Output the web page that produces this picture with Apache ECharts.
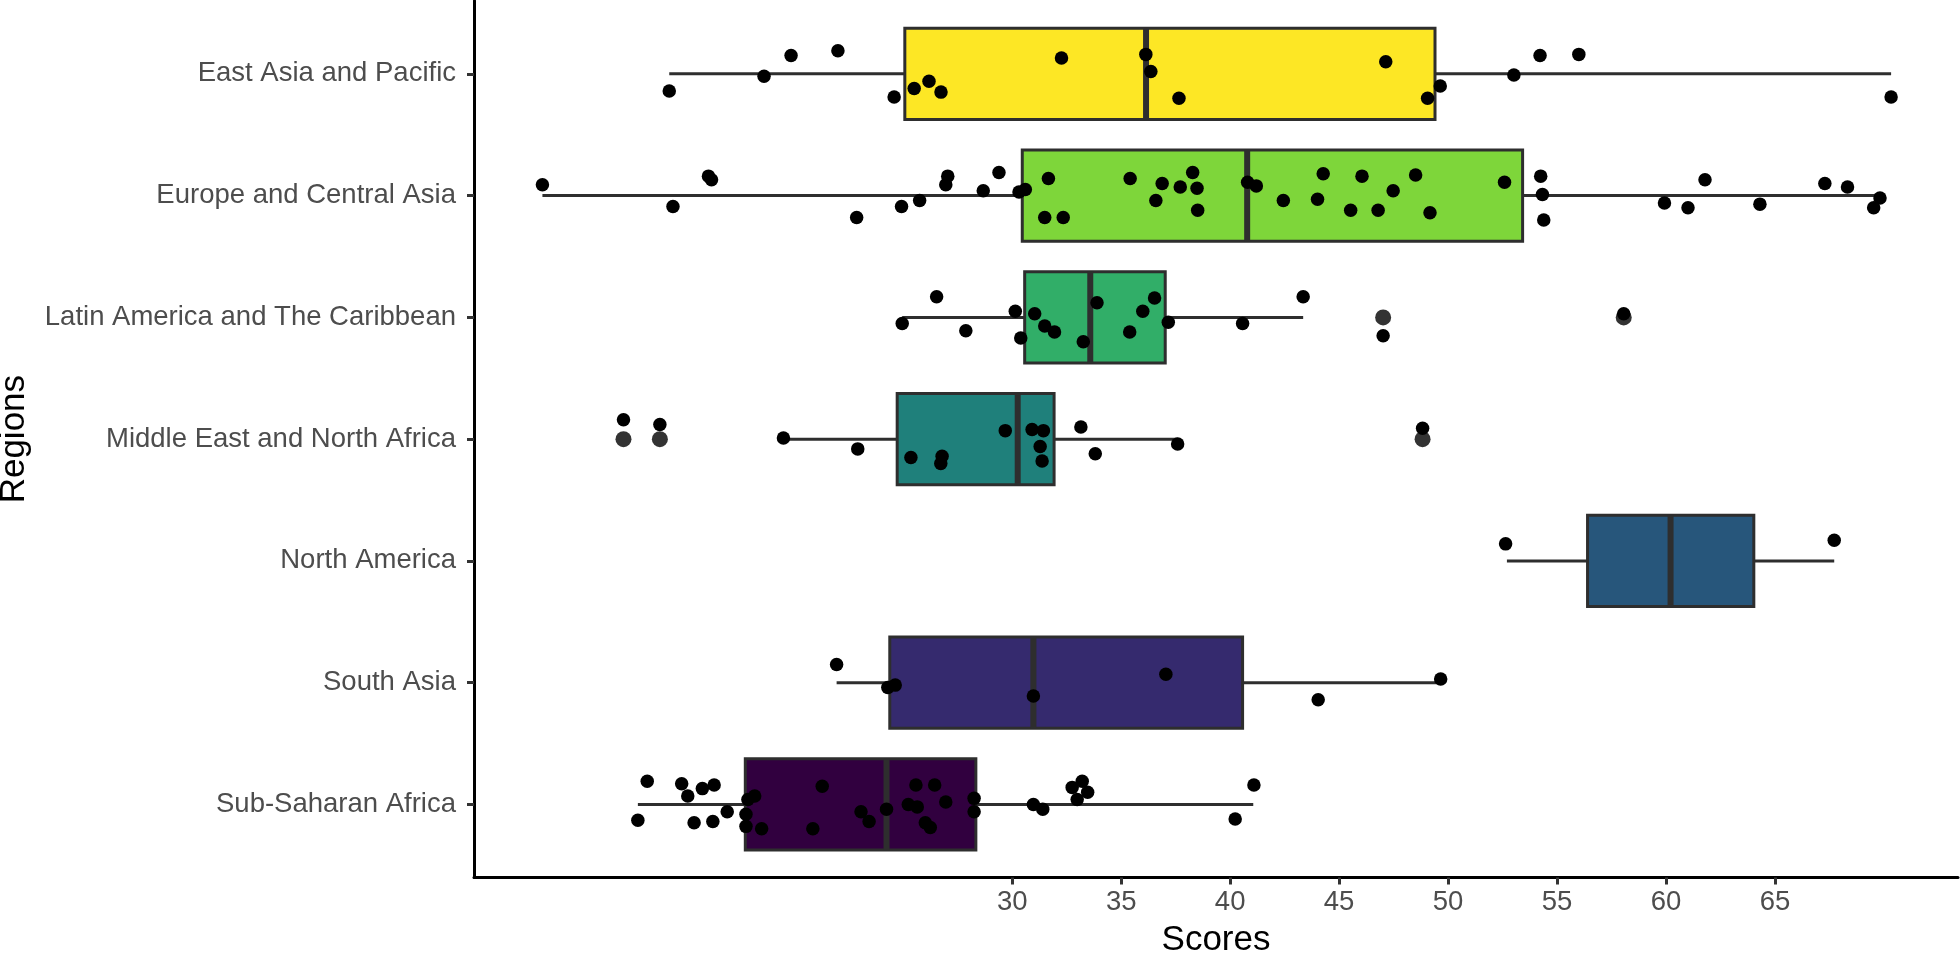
<!DOCTYPE html>
<html>
<head>
<meta charset="utf-8">
<script src="https://cdn.jsdelivr.net/npm/echarts@6/dist/echarts.min.js"></script>
<style>
html,body{margin:0;padding:0;background:#fff;}
#chart{width:1960px;height:956px;}
</style>
</head>
<body>
<div id="chart"></div>
<script>
// ---- data ----
const regions = ['East Asia and Pacific','Europe and Central Asia','Latin America and The Caribbean','Middle East and North Africa','North America','South Asia','Sub-Saharan Africa'];
const whiskerLow  = [14.26, 8.44, 24.95, 19.50, 52.70, 21.94, 12.82];
const q1          = [25.07, 30.46, 30.57, 24.72, 56.40, 24.38, 17.75];
const median      = [36.14, 40.78, 33.58, 30.25, 60.21, 30.97, 24.23];
const q3          = [49.40, 53.42, 37.02, 31.92, 64.03, 40.57, 28.33];
const whiskerHigh = [70.33, 69.82, 43.35, 37.59, 67.72, 49.66, 41.06];

const xTicks = [30, 35, 40, 45, 50, 55, 60, 65];

const eapScores = [14.26, 18.61, 19.85, 22.00, 24.58, 25.50, 26.18, 26.73, 32.26, 36.13, 36.36, 37.65, 47.14, 49.06, 49.64, 53.02, 54.22, 56.00, 70.33];
const eapJitter = [0.14, 0.02, -0.15, -0.19, 0.19, 0.12, 0.06, 0.15, -0.13, -0.16, -0.02, 0.20, -0.10, 0.20, 0.10, 0.01, -0.15, -0.16, 0.19];

const ecaScores = [8.44, 16.06, 16.20, 14.43, 22.86, 24.92, 25.75, 26.95, 27.04, 28.67, 29.39, 30.31, 30.60, 31.66, 31.49, 32.34, 35.41, 36.88, 36.59, 37.71, 38.28, 38.48, 38.51, 40.80, 41.20, 42.44, 44.27, 44.01, 45.53, 46.05, 46.79, 47.48, 48.51, 49.17, 52.59, 54.25, 54.33, 54.39, 59.93, 61.01, 61.79, 64.31, 67.29, 68.33, 69.82, 69.53];
const ecaJitter = [-0.09, -0.16, -0.13, 0.09, 0.18, 0.09, 0.04, -0.09, -0.16, -0.04, -0.19, -0.03, -0.05, -0.14, 0.18, 0.18, -0.14, -0.10, 0.04, -0.07, -0.19, -0.06, 0.12, -0.11, -0.08, 0.04, -0.18, 0.03, 0.12, -0.16, 0.12, -0.04, -0.17, 0.14, -0.11, -0.16, -0.01, 0.20, 0.06, 0.10, -0.13, 0.07, -0.10, -0.07, 0.02, 0.10];

const lacScores = [24.95, 26.53, 27.87, 30.14, 31.03, 31.49, 30.39, 31.94, 33.26, 33.89, 35.39, 35.99, 36.53, 37.16, 40.57, 43.35, 47.02, 58.06];
const lacJitter = [0.05, -0.17, 0.11, -0.05, -0.03, 0.07, 0.17, 0.12, 0.20, -0.12, 0.12, -0.05, -0.16, 0.04, 0.05, -0.17, 0.15, -0.03];

const menaScores = [12.16, 13.83, 19.50, 22.91, 25.35, 26.78, 26.72, 29.68, 30.91, 31.43, 31.28, 31.37, 33.15, 33.81, 37.59, 48.83];
const menaJitter = [-0.16, -0.12, -0.01, 0.08, 0.15, 0.14, 0.20, -0.07, -0.08, -0.07, 0.06, 0.18, -0.10, 0.12, 0.04, -0.09];

const naScores = [52.64, 67.72];
const naJitter = [-0.14, -0.17];

const saScores = [21.94, 24.29, 24.63, 30.97, 37.05, 49.66, 44.04];
const saJitter = [-0.15, 0.04, 0.02, 0.11, -0.07, -0.03, 0.14];

const ssaScores = [13.25, 14.83, 15.11, 15.78, 16.32, 12.82, 15.40, 16.26, 16.92, 17.78, 18.18, 17.87, 17.78, 18.50, 20.85, 21.28, 23.06, 23.43, 24.23, 25.23, 25.58, 25.64, 26.44, 26.01, 26.24, 26.95, 28.25, 28.25, 30.97, 31.40, 32.75, 33.21, 33.46, 32.98, 41.09, 40.23];
const ssaJitter = [-0.19, -0.17, -0.07, -0.13, -0.16, 0.13, 0.15, 0.14, 0.06, 0.08, -0.07, -0.04, 0.18, 0.20, 0.20, -0.15, 0.06, 0.14, 0.04, 0.00, -0.16, 0.02, -0.16, 0.15, 0.19, -0.02, -0.05, 0.06, 0.00, 0.04, -0.14, -0.19, -0.10, -0.04, -0.16, 0.12];

const outlierRegion = [2, 2, 3, 3, 3];
const outlierScore  = [47.02, 58.06, 12.16, 13.83, 48.83];

// ---- styling ----
const boxColors = ['#FDE725', '#7ED63A', '#31AE68', '#1F807B', '#27567B', '#352A6E', '#31003F'];
const FONT = '"Liberation Sans", Arial, Helvetica, sans-serif';

const pointSets = [
  [eapScores, eapJitter], [ecaScores, ecaJitter], [lacScores, lacJitter],
  [menaScores, menaJitter], [naScores, naJitter], [saScores, saJitter], [ssaScores, ssaJitter]
];
const pointData = [];
pointSets.forEach(([s, j], i) => {
  s.forEach((v, k) => pointData.push([v, i + 1 + j[k]]));
});
const boxData = regions.map((r, i) => [i + 1, whiskerLow[i], q1[i], median[i], q3[i], whiskerHigh[i]]);
const outlierData = outlierScore.map((v, i) => [v, outlierRegion[i] + 1]);

const chart = echarts.init(document.getElementById('chart'), null, {renderer: 'canvas'});
chart.setOption({
  animation: false,
  backgroundColor: '#ffffff',
  grid: {left: 474, right: 2, top: 0.8, bottom: 78.5, containLabel: false, outerBoundsMode: 'none'},
  xAxis: {
    type: 'value', min: 5.3, max: 73.4,
    splitLine: {show: false},
    axisLine: {show: true, lineStyle: {color: '#000', width: 3}},
    axisTick: {show: true, customValues: xTicks, length: 7, lineStyle: {color: '#333', width: 3}},
    axisLabel: {customValues: xTicks, fontSize: 27.5, color: '#4D4D4D', margin: 11, fontFamily: FONT},
    name: 'Scores', nameLocation: 'middle', nameGap: 45,
    nameTextStyle: {fontSize: 35, color: '#000', fontFamily: FONT}
  },
  yAxis: {
    type: 'value', min: 0.4, max: 7.6, inverse: true,
    splitLine: {show: false},
    axisLine: {show: true, lineStyle: {color: '#000', width: 3}},
    axisTick: {show: true, customValues: [1,2,3,4,5,6,7], length: 7, lineStyle: {color: '#333', width: 3}},
    axisLabel: {customValues: [1,2,3,4,5,6,7], fontSize: 27.5, color: '#4D4D4D', margin: 18, fontFamily: FONT,
      formatter: v => regions[Math.round(v) - 1]},
    name: 'Regions', nameLocation: 'middle', nameGap: 442, nameRotate: 90,
    nameTextStyle: {fontSize: 35, color: '#000', fontFamily: FONT}
  },
  series: [
    {
      type: 'custom',
      data: boxData,
      encode: {x: [1, 2, 3, 4, 5], y: 0},
      z: 1,
      renderItem: function (params, api) {
        const yv = api.value(0);
        const pL = api.coord([api.value(1), yv]);
        const p1 = api.coord([api.value(2), yv]);
        const pM = api.coord([api.value(3), yv]);
        const p3 = api.coord([api.value(4), yv]);
        const pH = api.coord([api.value(5), yv]);
        const h = api.size([0, 0.75])[1];
        const stroke = '#2E2E2E';
        return {
          type: 'group',
          children: [
            {type: 'line', shape: {x1: pL[0], y1: pL[1], x2: p1[0], y2: p1[1]}, style: {stroke: stroke, lineWidth: 3}},
            {type: 'line', shape: {x1: p3[0], y1: p3[1], x2: pH[0], y2: pH[1]}, style: {stroke: stroke, lineWidth: 3}},
            {type: 'rect', shape: {x: p1[0], y: p1[1] - h / 2, width: p3[0] - p1[0], height: h},
              style: {fill: boxColors[params.dataIndex], stroke: stroke, lineWidth: 3}},
            {type: 'line', shape: {x1: pM[0], y1: pM[1] - h / 2, x2: pM[0], y2: pM[1] + h / 2},
              style: {stroke: stroke, lineWidth: 6}}
          ]
        };
      }
    },
    {
      type: 'scatter',
      data: outlierData,
      symbol: 'circle', symbolSize: 16,
      itemStyle: {color: '#333333', opacity: 1},
      z: 2
    },
    {
      type: 'scatter',
      data: pointData,
      symbol: 'circle', symbolSize: 13.5,
      itemStyle: {color: '#000000', opacity: 1},
      z: 3
    }
  ]
});
</script>
</body>
</html>
